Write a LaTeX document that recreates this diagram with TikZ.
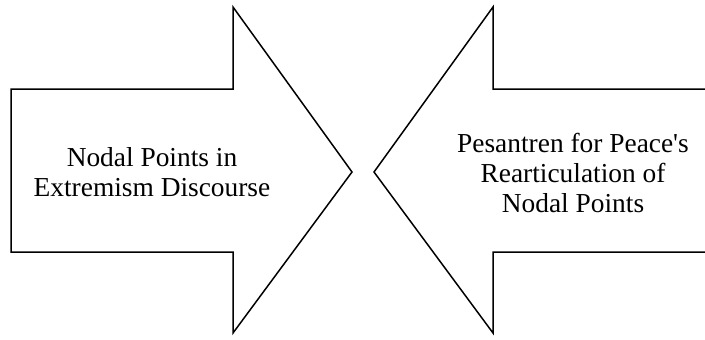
\documentclass[tikz,border=0pt]{standalone}
\usepackage{fontspec}
\setmainfont{Liberation Serif}
\begin{document}
\begin{tikzpicture}[x=1bp,y=-1bp,
  arrowshape/.style={draw=black,line width=1.5bp,line join=miter,fill=white},
  lbl/.style={align=center,font=\fontsize{27.5}{30.5}\selectfont,inner sep=0pt}]
\useasboundingbox (0,0) rectangle (705,339);
\draw[arrowshape] (11,89) -- (233,89) -- (233,7) -- (352,172) -- (233,333) -- (233,252) -- (11,252) -- cycle;
\draw[arrowshape] (712,89) -- (493,89) -- (493,7) -- (374,172) -- (493,333) -- (493,252) -- (712,252);
\node[lbl] (left) at (152,172) {Nodal Points in\\Extremism Discourse};
\node[lbl] (right) at (573,173) {Pesantren for Peace\textquotesingle s\\Rearticulation of\\Nodal Points};
\end{tikzpicture}
\end{document}
